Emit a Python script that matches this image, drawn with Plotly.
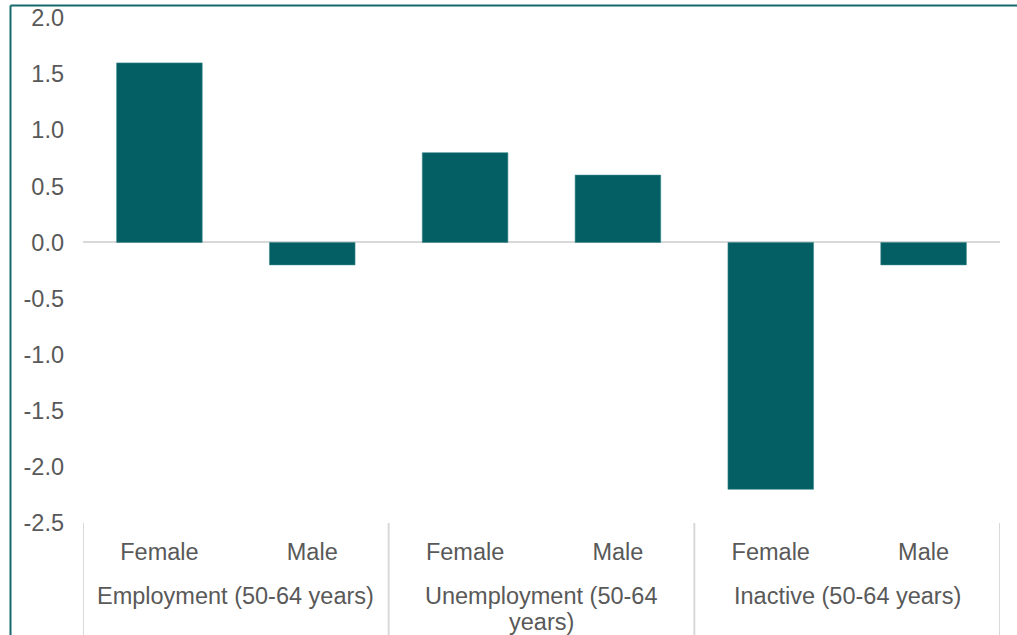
import plotly.graph_objects as go

group_names = ["Employment (50-64 years)", "Unemployment (50-64<br>years)", "Inactive (50-64 years)"]
sexes = ["Female", "Male", "Female", "Male", "Female", "Male"]
values = [1.6, -0.2, 0.8, 0.6, -2.2, -0.2]

tick_vals = [-2.5, -2.0, -1.5, -1.0, -0.5, 0.0, 0.5, 1.0, 1.5, 2.0]
tick_text = ["-2.5", "-2.0", "-1.5", "-1.0", "-0.5", "0.0", "0.5", "1.0", "1.5", "2.0"]

BAR = "#035F63"
BORDER = "#16696D"
TXT = "#595959"
GRID = "#d9d9d9"
FONT = "Liberation Sans, Arial, sans-serif"
FS = 23.5

xpos = list(range(len(values)))
n_per_group = 2

fig = go.Figure(go.Bar(
    x=xpos,
    y=values,
    marker=dict(color=BAR, line=dict(color="#3d8a8d", width=0.6)),
))

L, R, T, B = 83, 17, 18, 112
W, H = 1017, 635
pw, ph = W - L - R, H - T - B
axis_px = H - B

fig.update_layout(
    width=W, height=H,
    margin=dict(l=L, r=R, t=T, b=B, pad=0, autoexpand=False),
    paper_bgcolor="white", plot_bgcolor="white",
    bargap=0.44,
    showlegend=False,
    font=dict(family=FONT, size=FS, color=TXT),
)
fig.update_yaxes(
    range=[-2.5, 2.0], automargin=False,
    tickvals=tick_vals, ticktext=tick_text,
    showgrid=False, zeroline=True, zerolinecolor=GRID, zerolinewidth=2,
    showline=False, ticks="", ticklabelstandoff=18,
    tickfont=dict(family=FONT, size=FS, color=TXT),
)
fig.update_xaxes(
    range=[-0.5, len(values) - 0.5], automargin=False,
    tickvals=xpos, ticktext=sexes,
    showgrid=False, showline=False, zeroline=False, ticks="",
    ticklabelstandoff=12,
    tickfont=dict(family=FONT, size=FS, color=TXT),
)

# group dividers below the axis
for k in range(len(group_names) + 1):
    xd = k * n_per_group - 0.5
    fig.add_shape(type="line", xref="x", yref="paper", x0=xd, x1=xd, y0=0, y1=-(B + 10) / ph,
                  line=dict(color=GRID, width=2))

# group labels (wrapped lines spaced like the reference)
first_line_px, line_step_px = 596, 26
for k, name in enumerate(group_names):
    xc = k * n_per_group + (n_per_group - 1) / 2
    for i, line in enumerate(name.split("<br>")):
        py = first_line_px + i * line_step_px
        fig.add_annotation(x=xc, xref="x", y=-(py - axis_px) / ph, yref="paper",
                           yanchor="middle", xanchor="center", text=line, showarrow=False,
                           font=dict(family=FONT, size=FS, color=TXT))

# outer teal frame (left and top edges visible)
x0 = (10.5 - L) / pw
y_top = 1 + (T - 5.5) / ph
y_bot = -(B + 20) / ph
fig.add_shape(type="line", xref="paper", yref="paper", x0=x0, x1=x0, y0=y_bot, y1=y_top,
              line=dict(color=BORDER, width=2))
fig.add_shape(type="line", xref="paper", yref="paper", x0=x0, x1=1 + (R + 20) / pw, y0=y_top, y1=y_top,
              line=dict(color=BORDER, width=2))

fig.write_html("out.html")
